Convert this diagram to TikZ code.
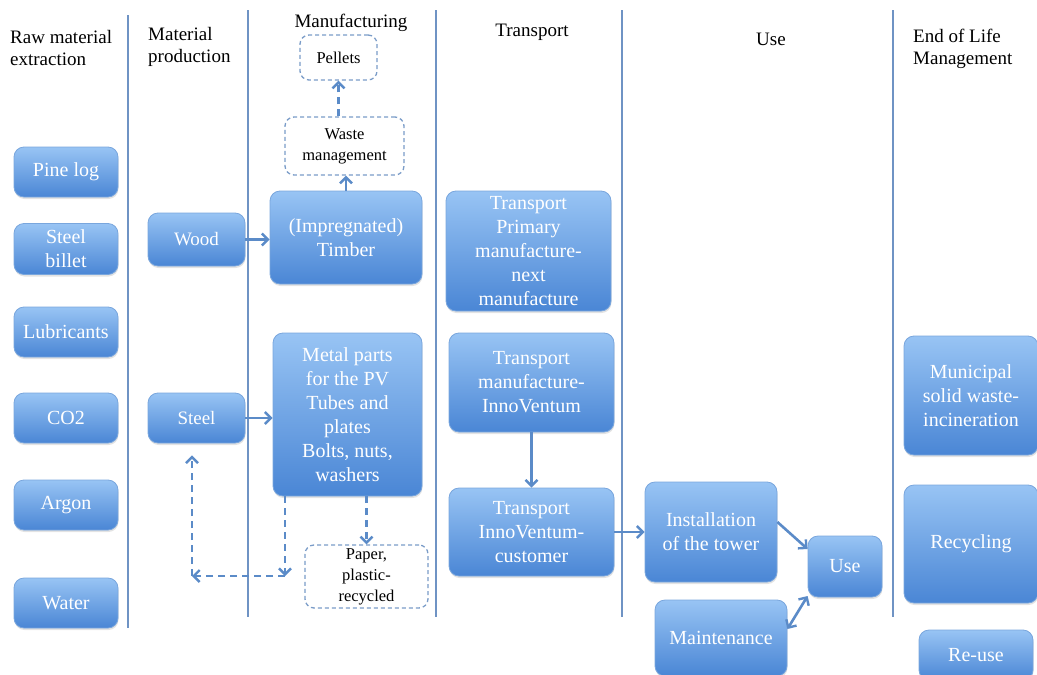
\documentclass[tikz,border=0pt]{standalone}
\usepackage{fontspec}
\setmainfont{Liberation Serif}
\usetikzlibrary{arrows.meta,calc,shadows}
\definecolor{btop}{HTML}{98C4F4}
\definecolor{bbot}{HTML}{4A86D5}
\definecolor{bdraw}{HTML}{79A6DD}
\definecolor{sepc}{HTML}{6F93C4}
\definecolor{arrc}{HTML}{5B8BC8}
\definecolor{dline}{HTML}{7A9CC8}
\begin{document}
\begin{tikzpicture}[x=1pt,y=-1pt,
  box/.style={rounded corners=10pt, top color=btop, bottom color=bbot, draw=bdraw, line width=0.8pt,
    text=white, align=center, font=\fontsize{20}{24}\selectfont, inner sep=1pt,
    drop shadow={opacity=0.22, shadow xshift=0.5pt, shadow yshift=-2pt}},
  dbox/.style={rounded corners=9pt, draw=dline, dash pattern=on 4pt off 3pt, line width=1.3pt,
    fill=white, align=center, font=\fontsize{16.5}{21}\selectfont, inner sep=1pt},
  hdr/.style={align=left, font=\fontsize{19}{22}\selectfont, inner sep=0pt},
  sep/.style={draw=sepc, line width=2.2pt},
  tip/.tip={Straight Barb[length=6pt,width=12pt,line width=2.4pt]},
  arr/.style={draw=arrc, line width=2.6pt, -tip},
  darr/.style={arr, dash pattern=on 7pt off 5pt},
  barr/.style={draw=arrc, line width=2.6pt, tip-tip}
]
\useasboundingbox (0,0) rectangle (1037,675);

% separators
\coordinate (s1t) at (128,15); \coordinate (s1b) at (128,628);
\coordinate (s2t) at (248,10); \coordinate (s2b) at (248,617);
\coordinate (s3t) at (436,10); \coordinate (s3b) at (436,617);
\coordinate (s4t) at (622,10); \coordinate (s4b) at (622,617);
\coordinate (s5t) at (893,10); \coordinate (s5b) at (893,617);
\draw[sep] (s1t) -- (s1b);
\draw[sep] (s2t) -- (s2b);
\draw[sep] (s3t) -- (s3b);
\draw[sep] (s4t) -- (s4b);
\draw[sep] (s5t) -- (s5b);

% headers
\node[hdr, anchor=base west] (h1) at (10,65) {Raw material\\extraction};
\node[hdr, anchor=base west] (h2) at (148,62) {Material\\production};
\node[hdr, anchor=base] (h3) at (351,27) {Manufacturing};
\node[hdr, anchor=base] (h4) at (532,36) {Transport};
\node[hdr, anchor=base] (h5) at (771,45) {Use};
\node[hdr, anchor=base west] (h6) at (913,64) {End of Life\\Management};

% raw material boxes
\begin{scope}[every node/.append style={minimum width=104pt, font=\fontsize{18.5}{22}\selectfont}]
\node[box, minimum height=50pt] (pine) at (66,172) {Pine log};
\node[box, minimum height=51pt] (billet) at (66,249) {Steel\\billet};
\node[box, minimum height=50pt] (lub) at (66,332) {Lubricants};
\node[box, minimum height=50pt] (co2) at (66,418) {CO2};
\node[box, minimum height=50pt] (argon) at (66,505) {Argon};
\node[box, minimum height=50pt] (water) at (66,603) {Water};
\end{scope}

% material production
\node[box, minimum width=97pt, minimum height=53pt, font=\fontsize{19}{24}\selectfont] (wood) at (196.5,239.5) {Wood};
\node[box, minimum width=97pt, minimum height=50pt, font=\fontsize{19}{24}\selectfont] (steel) at (196.5,418) {Steel};

% manufacturing
\node[dbox, minimum width=77pt, minimum height=45pt] (pellets) at (338.5,57.5) {Pellets};
\node[dbox, minimum width=119pt, minimum height=58pt] (waste) at (344.5,146) {Waste\\management};
\node[box, minimum width=152pt, minimum height=93pt] (timber) at (346,237.5) {(Impregnated)\\Timber};
\node[box, minimum width=149pt, minimum height=163pt] (metal) at (347.5,414.5) {Metal parts\\for the PV\\Tubes and\\plates\\Bolts, nuts,\\washers};
\node[dbox, minimum width=123pt, minimum height=63pt] (paper) at (366.5,576.5) {Paper,\\plastic-\\recycled};

% transport
\node[box, minimum width=165pt, minimum height=120pt] (tr1) at (528.5,251) {Transport\\Primary\\manufacture-\\next\\manufacture};
\node[box, minimum width=165pt, minimum height=99pt] (tr2) at (531.5,382.5) {Transport\\manufacture-\\InnoVentum};
\node[box, minimum width=165pt, minimum height=88pt] (tr3) at (531.5,532) {Transport\\InnoVentum-\\customer};

% use
\node[box, minimum width=132pt, minimum height=100pt] (inst) at (711,532) {Installation\\of the tower};
\node[box, minimum width=74pt, minimum height=61pt] (use) at (845,566.5) {Use};
\node[box, minimum width=132pt, minimum height=76pt] (maint) at (721,638) {Maintenance};

% end of life
\node[box, minimum width=134pt, minimum height=119pt] (msw) at (971,395.5) {Municipal\\solid waste-\\incineration};
\node[box, minimum width=134pt, minimum height=118pt] (recy) at (971,544) {Recycling};
\node[box, minimum width=114pt, minimum height=50pt] (reuse) at (976,655) {Re-use};

% connectors
\draw[arr] (wood.east) -- (wood.east -| timber.west);
\draw[arr] (timber.north) -- (timber.north |- waste.south);
\draw[darr] (pellets.south |- waste.north) -- (pellets.south);
\draw[arr] (steel.east) -- (steel.east -| metal.west);
\draw[darr] (paper.north |- metal.south) -- (paper.north);
\coordinate (c1) at (285,576);
\coordinate (c2) at (192,576);
\draw[darr] (metal.south -| c1) -- (c1);
\draw[darr] (c1) -- (c2);
\draw[darr, shorten >=12pt] (c2) -- (steel.south -| c2);
\draw[arr] (tr2.south) -- (tr3.north);
\draw[arr] (tr3.east) -- (tr3.east -| inst.west);
\draw[arr] (inst.east |- 0,522) -- (use.north west |- 0,549);
\draw[barr] (maint.east |- 0,629) -- (use.south west |- 0,596);
\end{tikzpicture}
\end{document}
